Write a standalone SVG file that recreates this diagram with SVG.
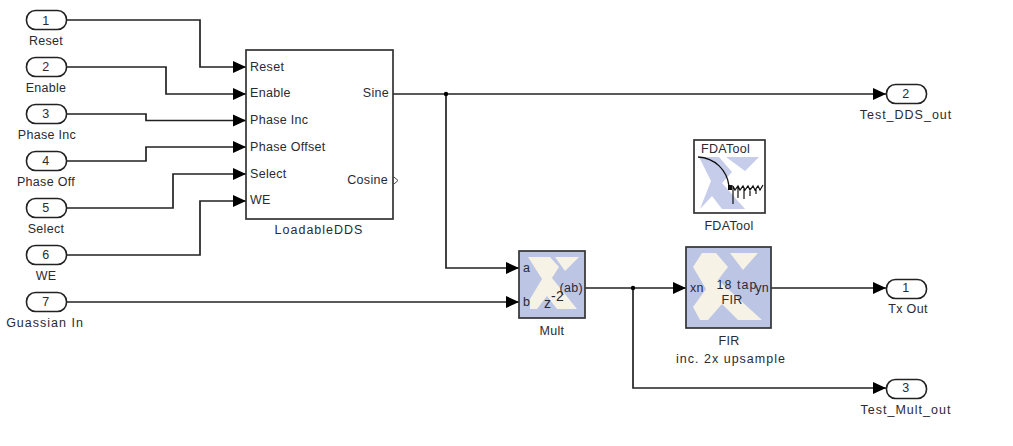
<svg xmlns="http://www.w3.org/2000/svg" width="1013" height="446" viewBox="0 0 1013 446">
<style>
text{font-family:"Liberation Sans",Arial,sans-serif;font-size:12.5px;letter-spacing:.3px;fill:#2a2a33}
.m{text-anchor:middle}
.e{text-anchor:end}
.w{letter-spacing:1px}
.p{fill:#fff;stroke:#222;stroke-width:1.6}
.b{fill:#fff;stroke:#333;stroke-width:1.7}
.x{fill:#bcc5e4;stroke:#333;stroke-width:1.7}
.c{fill:none;stroke:#222;stroke-width:1.7}
.l{fill:#f6f2e6}
</style>
<defs>
<marker id="a" markerUnits="userSpaceOnUse" markerWidth="13" markerHeight="13" refX="13" refY="6.500" orient="auto"><path d="M0 0.500L13 6.500L0 12.500Z" fill="#000"/></marker>
</defs>
<g id="connectors">
<path class="c" marker-end="url(#a)" d="M66 20H200V67H246"/>
<path class="c" marker-end="url(#a)" d="M66 67H166V94H246"/>
<path class="c" marker-end="url(#a)" d="M66 114H146V120.500H246"/>
<path class="c" marker-end="url(#a)" d="M66 161H146V147H246"/>
<path class="c" marker-end="url(#a)" d="M66 208H173V174H246"/>
<path class="c" marker-end="url(#a)" d="M66 255H200V201H246"/>
<path class="c" marker-end="url(#a)" d="M66 302H519"/>
<path class="c" marker-end="url(#a)" d="M393 94H886"/>
<path class="c" marker-end="url(#a)" d="M446 94V268H519"/>
<path class="c" marker-end="url(#a)" d="M585 288H686"/>
<path class="c" marker-end="url(#a)" d="M633 288V388H886"/>
<path class="c" marker-end="url(#a)" d="M771 288H886"/>
<circle cx="446" cy="94" r="2.200" fill="#000"/>
<circle cx="633" cy="288" r="2.200" fill="#000"/>
</g>
<g id="in1"><rect class="p" x="26.500" y="10.500" width="40" height="19" rx="9"/><text class="m" x="46" y="25">1</text><text class="m" x="46" y="45">Reset</text></g>
<g id="in2"><rect class="p" x="26.500" y="57.500" width="40" height="19" rx="9"/><text class="m" x="46" y="71">2</text><text class="m" x="46" y="92">Enable</text></g>
<g id="in3"><rect class="p" x="26.500" y="104.500" width="40" height="19" rx="9"/><text class="m" x="46" y="118">3</text><text class="m" x="47" y="139">Phase Inc</text></g>
<g id="in4"><rect class="p" x="26.500" y="151.500" width="40" height="19" rx="9"/><text class="m" x="46" y="165">4</text><text class="m" x="46" y="186">Phase Off</text></g>
<g id="in5"><rect class="p" x="26.500" y="198.500" width="40" height="19" rx="9"/><text class="m" x="46" y="212">5</text><text class="m" x="46" y="233">Select</text></g>
<g id="in6"><rect class="p" x="26.500" y="245.500" width="40" height="19" rx="9"/><text class="m" x="46" y="259">6</text><text class="m" x="46" y="280">WE</text></g>
<g id="in7"><rect class="p" x="26.500" y="292.500" width="40" height="19" rx="9"/><text class="m" x="46" y="306">7</text><text class="m w" x="45" y="327">Guassian In</text></g>
<g id="dds">
<rect class="b" x="246" y="50" width="147" height="169"/>
<text x="250" y="71">Reset</text><text x="250" y="97">Enable</text><text x="250" y="124">Phase Inc</text><text x="250" y="151">Phase Offset</text><text x="250" y="178">Select</text><text x="250" y="204">WE</text>
<text class="e" x="389" y="97">Sine</text><text class="e" x="388" y="184">Cosine</text>
<path d="M394 177L398 180.500L394 184" fill="none" stroke="#444"/>
<text class="m w" x="319" y="234">LoadableDDS</text>
</g>
<g id="fdatool">
<rect class="b" x="694" y="140" width="71" height="73"/>
<path d="M699 157H719L732 172L722 183L745 209H722L712 196L700 209L711 181Z M726 157H759L745 171Z" fill="#c6cdea"/>
<text x="701" y="153">FDATool</text>
<path d="M698 157C715 158 727 170 729 186" fill="none" stroke="#111" stroke-width="1.300"/>
<path d="M729 186H733M733 186L735 190L738 186L740 190L743 186L745 190L748 186L750 190L753 186L755 190L758 186L760 190L763 185M733 186V204M738 188V198M744 188V199M750 188V196M756 188V194" fill="none" stroke="#111" stroke-width="1.200"/>
<rect x="728" y="185" width="4" height="5" fill="#111"/>
<text class="m" x="729" y="230">FDATool</text>
</g>
<g id="mult">
<rect class="x" x="519" y="251" width="66" height="67"/>
<path class="l" d="M528 257H550L559 267L552 278L577 309H557L547 296L537 309H530V299L542 279Z M555 257H579L565 271Z"/>
<text x="523" y="272">a</text><text x="523" y="306">b</text>
<text class="e" x="583" y="292">(ab)</text>
<text style="font-size:14px" x="544" y="308">z</text><text style="font-size:14px" x="551" y="301">-2</text>
<text class="m" x="552" y="335">Mult</text>
</g>
<g id="fir">
<rect class="x" x="686" y="247" width="85" height="81"/>
<path class="l" d="M702 253H716L728 267L718 280L762 320H738L722 304L708 320H700L693 307L706 289L693 267Z M730 253H758L743 270Z"/>
<text x="690" y="292">xn</text><text class="e" x="769" y="292">yn</text>
<text class="m w" x="737" y="289">18 tap</text><text class="m" x="732" y="304">FIR</text>
<text class="m" x="729" y="345">FIR</text><text class="m w" x="731" y="363">inc. 2x upsample</text>
</g>
<g id="out2"><rect class="p" x="886.500" y="84.500" width="40" height="19" rx="9"/><text class="m" x="906" y="98">2</text><text class="m w" x="906" y="119">Test_DDS_out</text></g>
<g id="out1"><rect class="p" x="886.500" y="279.500" width="40" height="19" rx="9"/><text class="m" x="906" y="292">1</text><text class="m" x="908" y="313">Tx Out</text></g>
<g id="out3"><rect class="p" x="886.500" y="379.500" width="40" height="19" rx="9"/><text class="m" x="906" y="392">3</text><text class="m w" x="906" y="414">Test_Mult_out</text></g>
</svg>
